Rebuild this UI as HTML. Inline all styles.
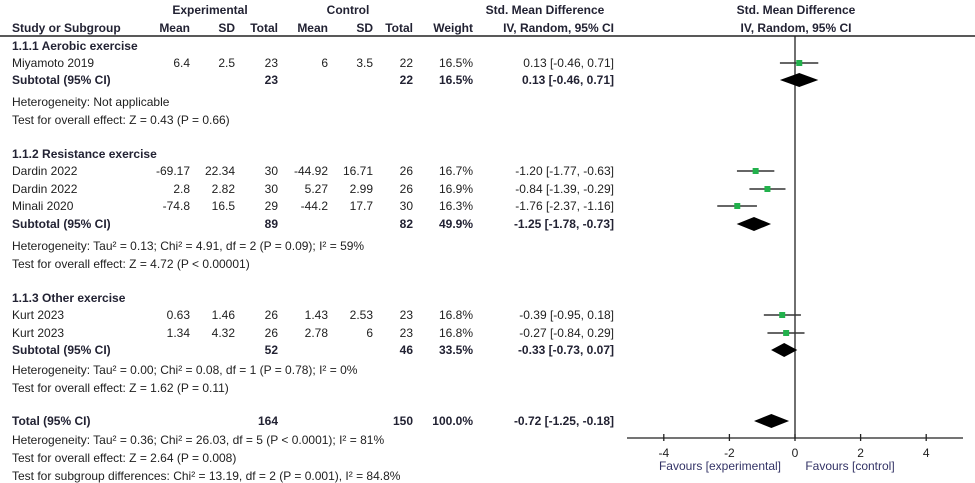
<!DOCTYPE html>
<html><head><meta charset="utf-8">
<style>
html,body{margin:0;padding:0;background:#fff;}
svg{display:block;font-family:"Liberation Sans",Arial,sans-serif;font-size:12px;fill:#1e1e1e;}
.b{font-weight:bold;fill:#222233;}
.r{text-anchor:end;}
.c{text-anchor:middle;}
</style></head>
<body>
<svg id="fp" width="975" height="483" viewBox="0 0 975 483">
<g class="b">
  <text x="210" y="14" class="c">Experimental</text>
  <text x="348" y="14" class="c">Control</text>
  <text x="545" y="14" class="c">Std. Mean Difference</text>
  <text x="796" y="14" class="c">Std. Mean Difference</text>
  <text x="12" y="32">Study or Subgroup</text>
  <text x="190" y="32" class="r">Mean</text>
  <text x="235" y="32" class="r">SD</text>
  <text x="278" y="32" class="r">Total</text>
  <text x="328" y="32" class="r">Mean</text>
  <text x="373" y="32" class="r">SD</text>
  <text x="413" y="32" class="r">Total</text>
  <text x="473" y="32" class="r">Weight</text>
  <text x="614" y="32" class="r">IV, Random, 95% CI</text>
  <text x="796" y="32" class="c">IV, Random, 95% CI</text>
</g>
<line x1="0" y1="36" x2="975" y2="36" stroke="#222" stroke-width="1.5"/>
<g id="tbl"></g>
<g id="plot"></g>
</svg>
<script>
// ---- data ----
const studyNames = ["Miyamoto 2019","Dardin 2022","Dardin 2022","Minali 2020","Kurt 2023","Kurt 2023"];
const studyEst = [0.13,-1.20,-0.84,-1.76,-0.39,-0.27];
const studyLo = [-0.46,-1.77,-1.39,-2.37,-0.95,-0.84];
const studyHi = [0.71,-0.63,-0.29,-1.16,0.18,0.29];
const subEst = [0.13,-1.25,-0.33];
const subLo = [-0.46,-1.78,-0.73];
const subHi = [0.71,-0.73,0.07];
const totalEst = [-0.72];
const totalLo = [-1.25];
const totalHi = [-0.18];
const tickLabels = [-4,-2,0,2,4];
// ---- layout ----
const NS = "http://www.w3.org/2000/svg";
const studyRowY = [63,171,189,206,315,333];
const subRowY = [80,224,350];
const totalRowY = 421;
const x0 = 795, unit = 32.8;
function xs(v){ return x0 + v*unit; }
const plot = document.getElementById('plot');
const tbl = document.getElementById('tbl');
function mk(tag, attrs, parent){
  const e = document.createElementNS(NS, tag);
  for (const k in attrs) e.setAttribute(k, attrs[k]);
  parent.appendChild(e); return e;
}
function txt(x,y,s,cls,parent,name){
  const t = mk('text',{x:x,y:y},parent);
  if (cls) t.setAttribute('class',cls);
  t.textContent = s;
  
  
  return t;
}
// table rows
const cols = [190,235,278,328,373,413,473,614];
const rows = [
 ['h',46,'1.1.1 Aerobic exercise'],
 ['s',63,'Miyamoto 2019',['6.4','2.5','23','6','3.5','22','16.5%','0.13 [-0.46, 0.71]']],
 ['t',80,'Subtotal (95% CI)',['','','23','','','22','16.5%','0.13 [-0.46, 0.71]']],
 ['n',102,'Heterogeneity: Not applicable'],
 ['n',120,'Test for overall effect: Z = 0.43 (P = 0.66)'],
 ['h',154,'1.1.2 Resistance exercise'],
 ['s',171,'Dardin 2022',['-69.17','22.34','30','-44.92','16.71','26','16.7%','-1.20 [-1.77, -0.63]']],
 ['s',189,'Dardin 2022',['2.8','2.82','30','5.27','2.99','26','16.9%','-0.84 [-1.39, -0.29]']],
 ['s',206,'Minali 2020',['-74.8','16.5','29','-44.2','17.7','30','16.3%','-1.76 [-2.37, -1.16]']],
 ['t',224,'Subtotal (95% CI)',['','','89','','','82','49.9%','-1.25 [-1.78, -0.73]']],
 ['n',246,'Heterogeneity: Tau\u00b2 = 0.13; Chi\u00b2 = 4.91, df = 2 (P = 0.09); I\u00b2 = 59%'],
 ['n',264,'Test for overall effect: Z = 4.72 (P < 0.00001)'],
 ['h',298,'1.1.3 Other exercise'],
 ['s',315,'Kurt 2023',['0.63','1.46','26','1.43','2.53','23','16.8%','-0.39 [-0.95, 0.18]']],
 ['s',333,'Kurt 2023',['1.34','4.32','26','2.78','6','23','16.8%','-0.27 [-0.84, 0.29]']],
 ['t',350,'Subtotal (95% CI)',['','','52','','','46','33.5%','-0.33 [-0.73, 0.07]']],
 ['n',370,'Heterogeneity: Tau\u00b2 = 0.00; Chi\u00b2 = 0.08, df = 1 (P = 0.78); I\u00b2 = 0%'],
 ['n',388,'Test for overall effect: Z = 1.62 (P = 0.11)'],
 ['t',421,'Total (95% CI)',['','','164','','','150','100.0%','-0.72 [-1.25, -0.18]']],
 ['n',440,'Heterogeneity: Tau\u00b2 = 0.36; Chi\u00b2 = 26.03, df = 5 (P < 0.0001); I\u00b2 = 81%'],
 ['n',458,'Test for overall effect: Z = 2.64 (P = 0.008)'],
 ['n',476,'Test for subgroup differences: Chi\u00b2 = 13.19, df = 2 (P = 0.001), I\u00b2 = 84.8%']
];
rows.forEach(r=>{
  const bold = (r[0]==='h'||r[0]==='t');
  txt(12, r[1]+4, r[2], bold?'b':'', tbl, r[0]==='h'?'subgroup-heading':(r[0]==='t'?'subtotal-label':(r[0]==='s'?'study-name':'stats-note')));
  if (r[3]) r[3].forEach((v,i)=>{ if(v) txt(cols[i], r[1]+4, v, bold?'b r':'r', tbl, 'table-cell'); });
});
// axis
const ax = mk('line',{x1:627,y1:438,x2:963,y2:438,stroke:'#222','stroke-width':1.3},plot);


const zl = mk('line',{x1:x0,y1:36,x2:x0,y2:438,stroke:'#222','stroke-width':1.3},plot);


tickLabels.forEach(v=>{
  const t = mk('line',{x1:xs(v),y1:434,x2:xs(v),y2:441,stroke:'#222','stroke-width':1.3},plot);
  
  
  txt(xs(v), 457, String(v), 'c', plot, 'x-tick-label');
});
const f1 = txt(720, 470, 'Favours [experimental]', 'c', plot, 'favours-experimental-label');
f1.setAttribute('style','fill:#333366');
const f2 = txt(850, 470, 'Favours [control]', 'c', plot, 'favours-control-label');
f2.setAttribute('style','fill:#333366');
// studies
studyEst.forEach((e,i)=>{
  const y = studyRowY[i];
  const l = mk('line',{x1:xs(studyLo[i]),y1:y,x2:xs(studyHi[i]),y2:y,stroke:'#333','stroke-width':1.4},plot);
  
  
  const s = mk('rect',{x:xs(e)-3,y:y-3,width:6,height:6,fill:'#22b14c'},plot);
  
  
});
function diamond(e,lo,hi,y,name){
  const p = mk('polygon',{points:`${xs(lo)},${y} ${xs(e)},${y-7} ${xs(hi)},${y} ${xs(e)},${y+7}`,fill:'#000'},plot);
  
  
}
subEst.forEach((e,i)=>diamond(e,subLo[i],subHi[i],subRowY[i],'subtotal-diamond'));
diamond(totalEst[0],totalLo[0],totalHi[0],totalRowY,'total-diamond');
</script>
</body></html>
